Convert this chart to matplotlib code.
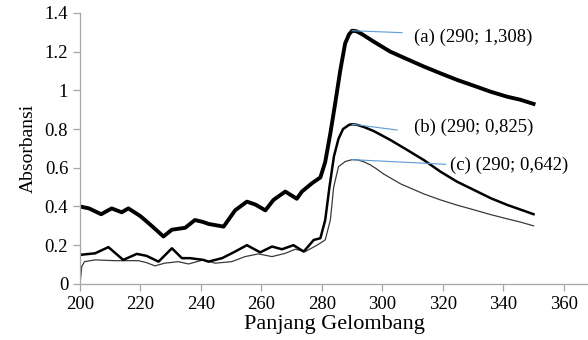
import matplotlib.pyplot as plt

plt.rcParams['font.family'] = ['Liberation Serif', 'DejaVu Serif']

# (a) sampel 1
xa = [200, 203, 207, 210.5, 213.8, 216, 220, 223.7, 227.6, 230.4, 234.8, 238, 240.7, 242.5,
      247.5, 251.3, 255.2, 258, 261.3, 264, 267.9, 271.7, 273.4, 276.7, 279.5, 281.1, 282.8,
      284.4, 286.1, 287.7, 289, 290, 291.5, 293.3, 297.1, 302.6, 308.2, 313.7, 319.2, 324.7,
      330.2, 335.8, 341.3, 345.5, 350]
ya = [0.40, 0.39, 0.36, 0.39, 0.37, 0.39, 0.35, 0.30, 0.245, 0.28, 0.29, 0.33, 0.32, 0.31,
      0.296, 0.38, 0.425, 0.41, 0.38, 0.434, 0.477, 0.44, 0.477, 0.52, 0.55, 0.63, 0.778,
      0.933, 1.105, 1.243, 1.29, 1.308, 1.305, 1.29, 1.252, 1.20, 1.161, 1.123, 1.088, 1.054,
      1.024, 0.993, 0.967, 0.952, 0.93]

# (b) sampel 2
xb = [200, 205, 209.4, 214.3, 218.8, 222, 226, 230.4, 233.7, 236.4, 240.8, 242.5, 247,
      251.3, 255.2, 259.6, 263.5, 266.8, 270.6, 274, 277.3, 279.5, 281.1, 282.5, 284, 285.5,
      287, 289, 290, 291.6, 294, 297.1, 302.6, 308.2, 313.7, 319.2, 324.7, 330.2, 335.8,
      341.3, 345.5, 350]
yb = [0.15, 0.158, 0.19, 0.124, 0.155, 0.145, 0.115, 0.184, 0.133, 0.133, 0.124, 0.115, 0.133,
      0.167, 0.20, 0.163, 0.193, 0.179, 0.20, 0.167, 0.227, 0.236, 0.33, 0.50, 0.66, 0.75,
      0.80, 0.822, 0.825, 0.822, 0.81, 0.79, 0.744, 0.692, 0.64, 0.58, 0.528, 0.486, 0.443,
      0.408, 0.385, 0.36]

# (c) sampel 3
xc = [200, 200.6, 201.5, 205, 211.6, 219.3, 222, 224.8, 228, 232.5, 235.9, 240.8, 244.7,
      250.2, 254.6, 259, 263.5, 267.9, 271.2, 274.5, 278.4, 281.1, 282.8, 283.9, 285.5,
      287.7, 290, 292, 294, 296, 298, 300.4, 306, 313.7, 319.2, 324.7, 330.2, 335.8, 341.3,
      345.5, 350]
yc = [0.0, 0.09, 0.115, 0.124, 0.12, 0.12, 0.11, 0.093, 0.107, 0.115, 0.103, 0.124, 0.107,
      0.115, 0.141, 0.155, 0.141, 0.158, 0.179, 0.167, 0.20, 0.227, 0.33, 0.50, 0.606,
      0.632, 0.642, 0.64, 0.63, 0.615, 0.595, 0.568, 0.517, 0.465, 0.434, 0.407, 0.383,
      0.358, 0.336, 0.32, 0.30]

peak_names = ["a", "b", "c"]
peak_x = [290, 290, 290]
peak_y = [1.308, 0.825, 0.642]
leader_end = [(306.5, 1.298), (304.9, 0.795), (320.9, 0.618)]
text_pos = [(310.5, 1.275), (310.5, 0.81), (322.5, 0.613)]

fig = plt.figure(figsize=(5.88, 3.40), dpi=100)
ax = fig.add_axes([0.136, 0.165, 0.864, 0.797])

ax.plot(xc, yc, color='#3a3a3a', linewidth=0.9, solid_joinstyle='round')
ax.plot(xb, yb, color='black', linewidth=1.8, solid_joinstyle='round')
ax.plot(xa, ya, color='black', linewidth=2.8, solid_joinstyle='round')

for i, n in enumerate(peak_names):
    ex, ey = leader_end[i]
    ax.plot([peak_x[i], ex], [peak_y[i], ey], color='#5b9bd5', linewidth=0.8)
    tx, ty = text_pos[i]
    label = f"({n}) ({peak_x[i]}; {peak_y[i]:.3f})".replace(".", ",")
    ax.text(tx, ty, label, fontsize=13.5, va='center', ha='left')

ax.set_xlim(200, 368)
ax.set_ylim(0, 1.4)
ax.set_xticks(range(200, 361, 20))
ax.set_yticks([0, 0.2, 0.4, 0.6, 0.8, 1, 1.2, 1.4])
ax.set_yticklabels(["0", "0.2", "0.4", "0.6", "0.8", "1", "1.2", "1.4"])

for s in ['top', 'right']:
    ax.spines[s].set_visible(False)
for s in ['left', 'bottom']:
    ax.spines[s].set_color('#a6a6a6')
    ax.spines[s].set_linewidth(0.9)
ax.tick_params(colors='#a6a6a6', labelcolor='black', labelsize=13.5, length=5, width=0.9)

ax.set_xlabel("Panjang Gelombang", fontsize=16, labelpad=2)
ax.set_ylabel("Absorbansi", fontsize=14, labelpad=6)

plt.savefig("out.png", dpi=100)
